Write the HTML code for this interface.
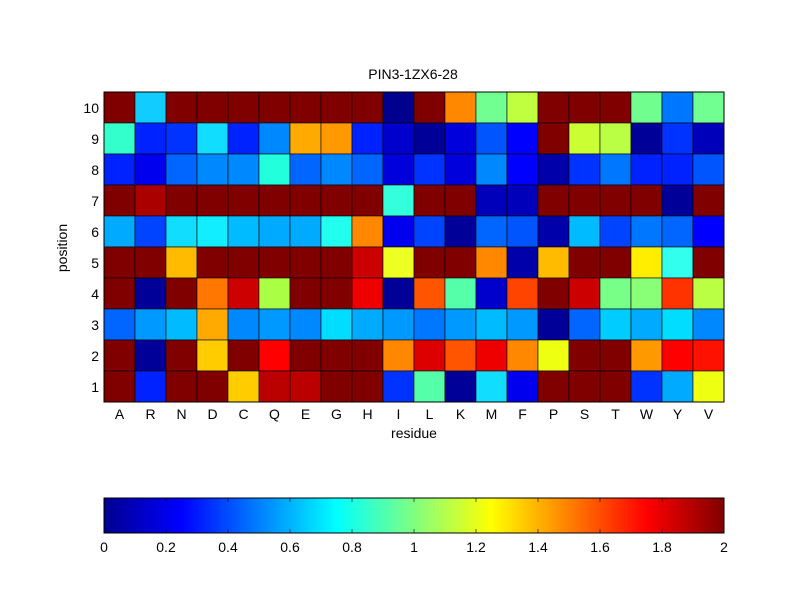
<!DOCTYPE html>
<html><head><meta charset="utf-8"><style>
html,body{margin:0;padding:0;background:#fff;}
svg{display:block;font-family:"Liberation Sans",sans-serif;}
</style></head><body>
<svg id="s" width="800" height="600" xmlns="http://www.w3.org/2000/svg">
<defs><linearGradient id="jet" x1="0" x2="1" y1="0" y2="0">
<stop offset="0" stop-color="#00008f"/><stop offset="0.125" stop-color="#0000ff"/>
<stop offset="0.375" stop-color="#00ffff"/><stop offset="0.625" stop-color="#ffff00"/>
<stop offset="0.875" stop-color="#ff0000"/><stop offset="1" stop-color="#800000"/>
</linearGradient></defs>
<g id="cells"></g>
<rect x="104" y="92" width="620" height="310" fill="none" stroke="#000" stroke-width="1"/>
<text x="413" y="79" font-size="14" text-anchor="middle">PIN3-1ZX6-28</text>
<g font-size="14" text-anchor="end">
<text x="99" y="113">10</text><text x="99" y="144">9</text><text x="99" y="175">8</text><text x="99" y="206">7</text><text x="99" y="237">6</text><text x="99" y="268">5</text><text x="99" y="299">4</text><text x="99" y="330">3</text><text x="99" y="361">2</text><text x="99" y="392">1</text>
</g>
<g font-size="14" text-anchor="middle">
<text x="119.5" y="419">A</text><text x="150.5" y="419">R</text><text x="181.5" y="419">N</text><text x="212.5" y="419">D</text><text x="243.5" y="419">C</text><text x="274.5" y="419">Q</text><text x="305.5" y="419">E</text><text x="336.5" y="419">G</text><text x="367.5" y="419">H</text><text x="398.5" y="419">I</text><text x="429.5" y="419">L</text><text x="460.5" y="419">K</text><text x="491.5" y="419">M</text><text x="522.5" y="419">F</text><text x="553.5" y="419">P</text><text x="584.5" y="419">S</text><text x="615.5" y="419">T</text><text x="646.5" y="419">W</text><text x="677.5" y="419">Y</text><text x="708.5" y="419">V</text>
</g>
<text x="414" y="438" font-size="14" text-anchor="middle">residue</text>
<text transform="translate(67,248) rotate(-90)" font-size="14" text-anchor="middle">position</text>
<rect x="104" y="498" width="620" height="35" fill="url(#jet)" stroke="#000" stroke-width="1"/>
<g stroke="#000" stroke-width="1" opacity="0.6">
<line x1="166" y1="498" x2="166" y2="502"/><line x1="228" y1="498" x2="228" y2="502"/><line x1="290" y1="498" x2="290" y2="502"/><line x1="352" y1="498" x2="352" y2="502"/><line x1="414" y1="498" x2="414" y2="502"/><line x1="476" y1="498" x2="476" y2="502"/><line x1="538" y1="498" x2="538" y2="502"/><line x1="600" y1="498" x2="600" y2="502"/><line x1="662" y1="498" x2="662" y2="502"/>
<line x1="166" y1="533" x2="166" y2="529"/><line x1="228" y1="533" x2="228" y2="529"/><line x1="290" y1="533" x2="290" y2="529"/><line x1="352" y1="533" x2="352" y2="529"/><line x1="414" y1="533" x2="414" y2="529"/><line x1="476" y1="533" x2="476" y2="529"/><line x1="538" y1="533" x2="538" y2="529"/><line x1="600" y1="533" x2="600" y2="529"/><line x1="662" y1="533" x2="662" y2="529"/>
</g>
<g font-size="14" text-anchor="middle">
<text x="104" y="552">0</text><text x="166" y="552">0.2</text><text x="228" y="552">0.4</text><text x="290" y="552">0.6</text><text x="352" y="552">0.8</text><text x="414" y="552">1</text><text x="476" y="552">1.2</text><text x="538" y="552">1.4</text><text x="600" y="552">1.6</text><text x="662" y="552">1.8</text><text x="724" y="552">2</text>
</g>
</svg>
<script>
var D="#800000";
var M=[
[D,"#11ccff",D,D,D,D,D,D,D,"#00008f",D,"#ff8800","#70ff90","#c0ff40",D,D,D,"#70ff8f","#0077ff","#70ff90"],
["#33ffcc","#0022ff","#0033ff","#11ddff","#0022ff","#0088ff","#ffaa00","#ff9900","#0022ff","#0000cc","#000099","#0000dd","#0055ff","#0000ff",D,"#ccff33","#bbff44","#000099","#0033ff","#0000bb"],
["#0022ff","#0000ee","#0066ff","#0088ff","#0088ff","#22ffdd","#0066ff","#0088ff","#0066ff","#0000dd","#0033ff","#0000dd","#0088ff","#0000ff","#0000aa","#0033ff","#0077ff","#0022ff","#0022ff","#0055ff"],
[D,"#aa0000",D,D,D,D,D,D,D,"#33ffdd",D,D,"#0000bb","#0000bb",D,D,D,D,"#000099",D],
["#00aaff","#0044ff","#11ddff","#11eeff","#00bbff","#00aaff","#00aaff","#22ffee","#ff8800","#0000ee","#0044ff","#000099","#0066ff","#0055ff","#0000aa","#00bbff","#0044ff","#0077ff","#0066ff","#0000ff"],
[D,D,"#ffbb00",D,D,D,D,D,"#cc0000","#eeff22",D,D,"#ff8800","#0000aa","#ffbb00",D,D,"#ffee00","#33ffee",D],
[D,"#000099",D,"#ff7700","#cc0000","#aaff44",D,D,"#ee0000","#000099","#ff5500","#55ffaa","#0000cc","#ff4400",D,"#cc0000","#77ff88","#88ff77","#ff3300","#bbff44"],
["#0066ff","#0099ff","#00bbff","#ffaa00","#0088ff","#0099ff","#0088ff","#00ddff","#00aaff","#0099ff","#0077ff","#0099ff","#00bbff","#0099ff","#000099","#0066ff","#00ccff","#00aaff","#00ddff","#0088ff"],
[D,"#000099",D,"#ffcc00",D,"#ff0000",D,D,D,"#ff8800","#dd0000","#ff5500","#ee0000","#ff8800","#eeff11",D,D,"#ff9900","#ff0000","#ff1100"],
[D,"#0022ff",D,D,"#ffcc00","#bb0000","#bb0000",D,D,"#0033ff","#55ffaa","#000099","#11ddff","#0000ee",D,D,D,"#0033ff","#00aaff","#eeff11"]];
var g=document.getElementById("cells"),h="";
for(var r=0;r<10;r++)for(var c=0;c<20;c++)h+='<rect x="'+(104+c*31)+'" y="'+(92+r*31)+'" width="31" height="31" fill="'+M[r][c]+'" stroke="#000" stroke-width="0.6"/>';
g.innerHTML=h;
</script>
</body></html>
